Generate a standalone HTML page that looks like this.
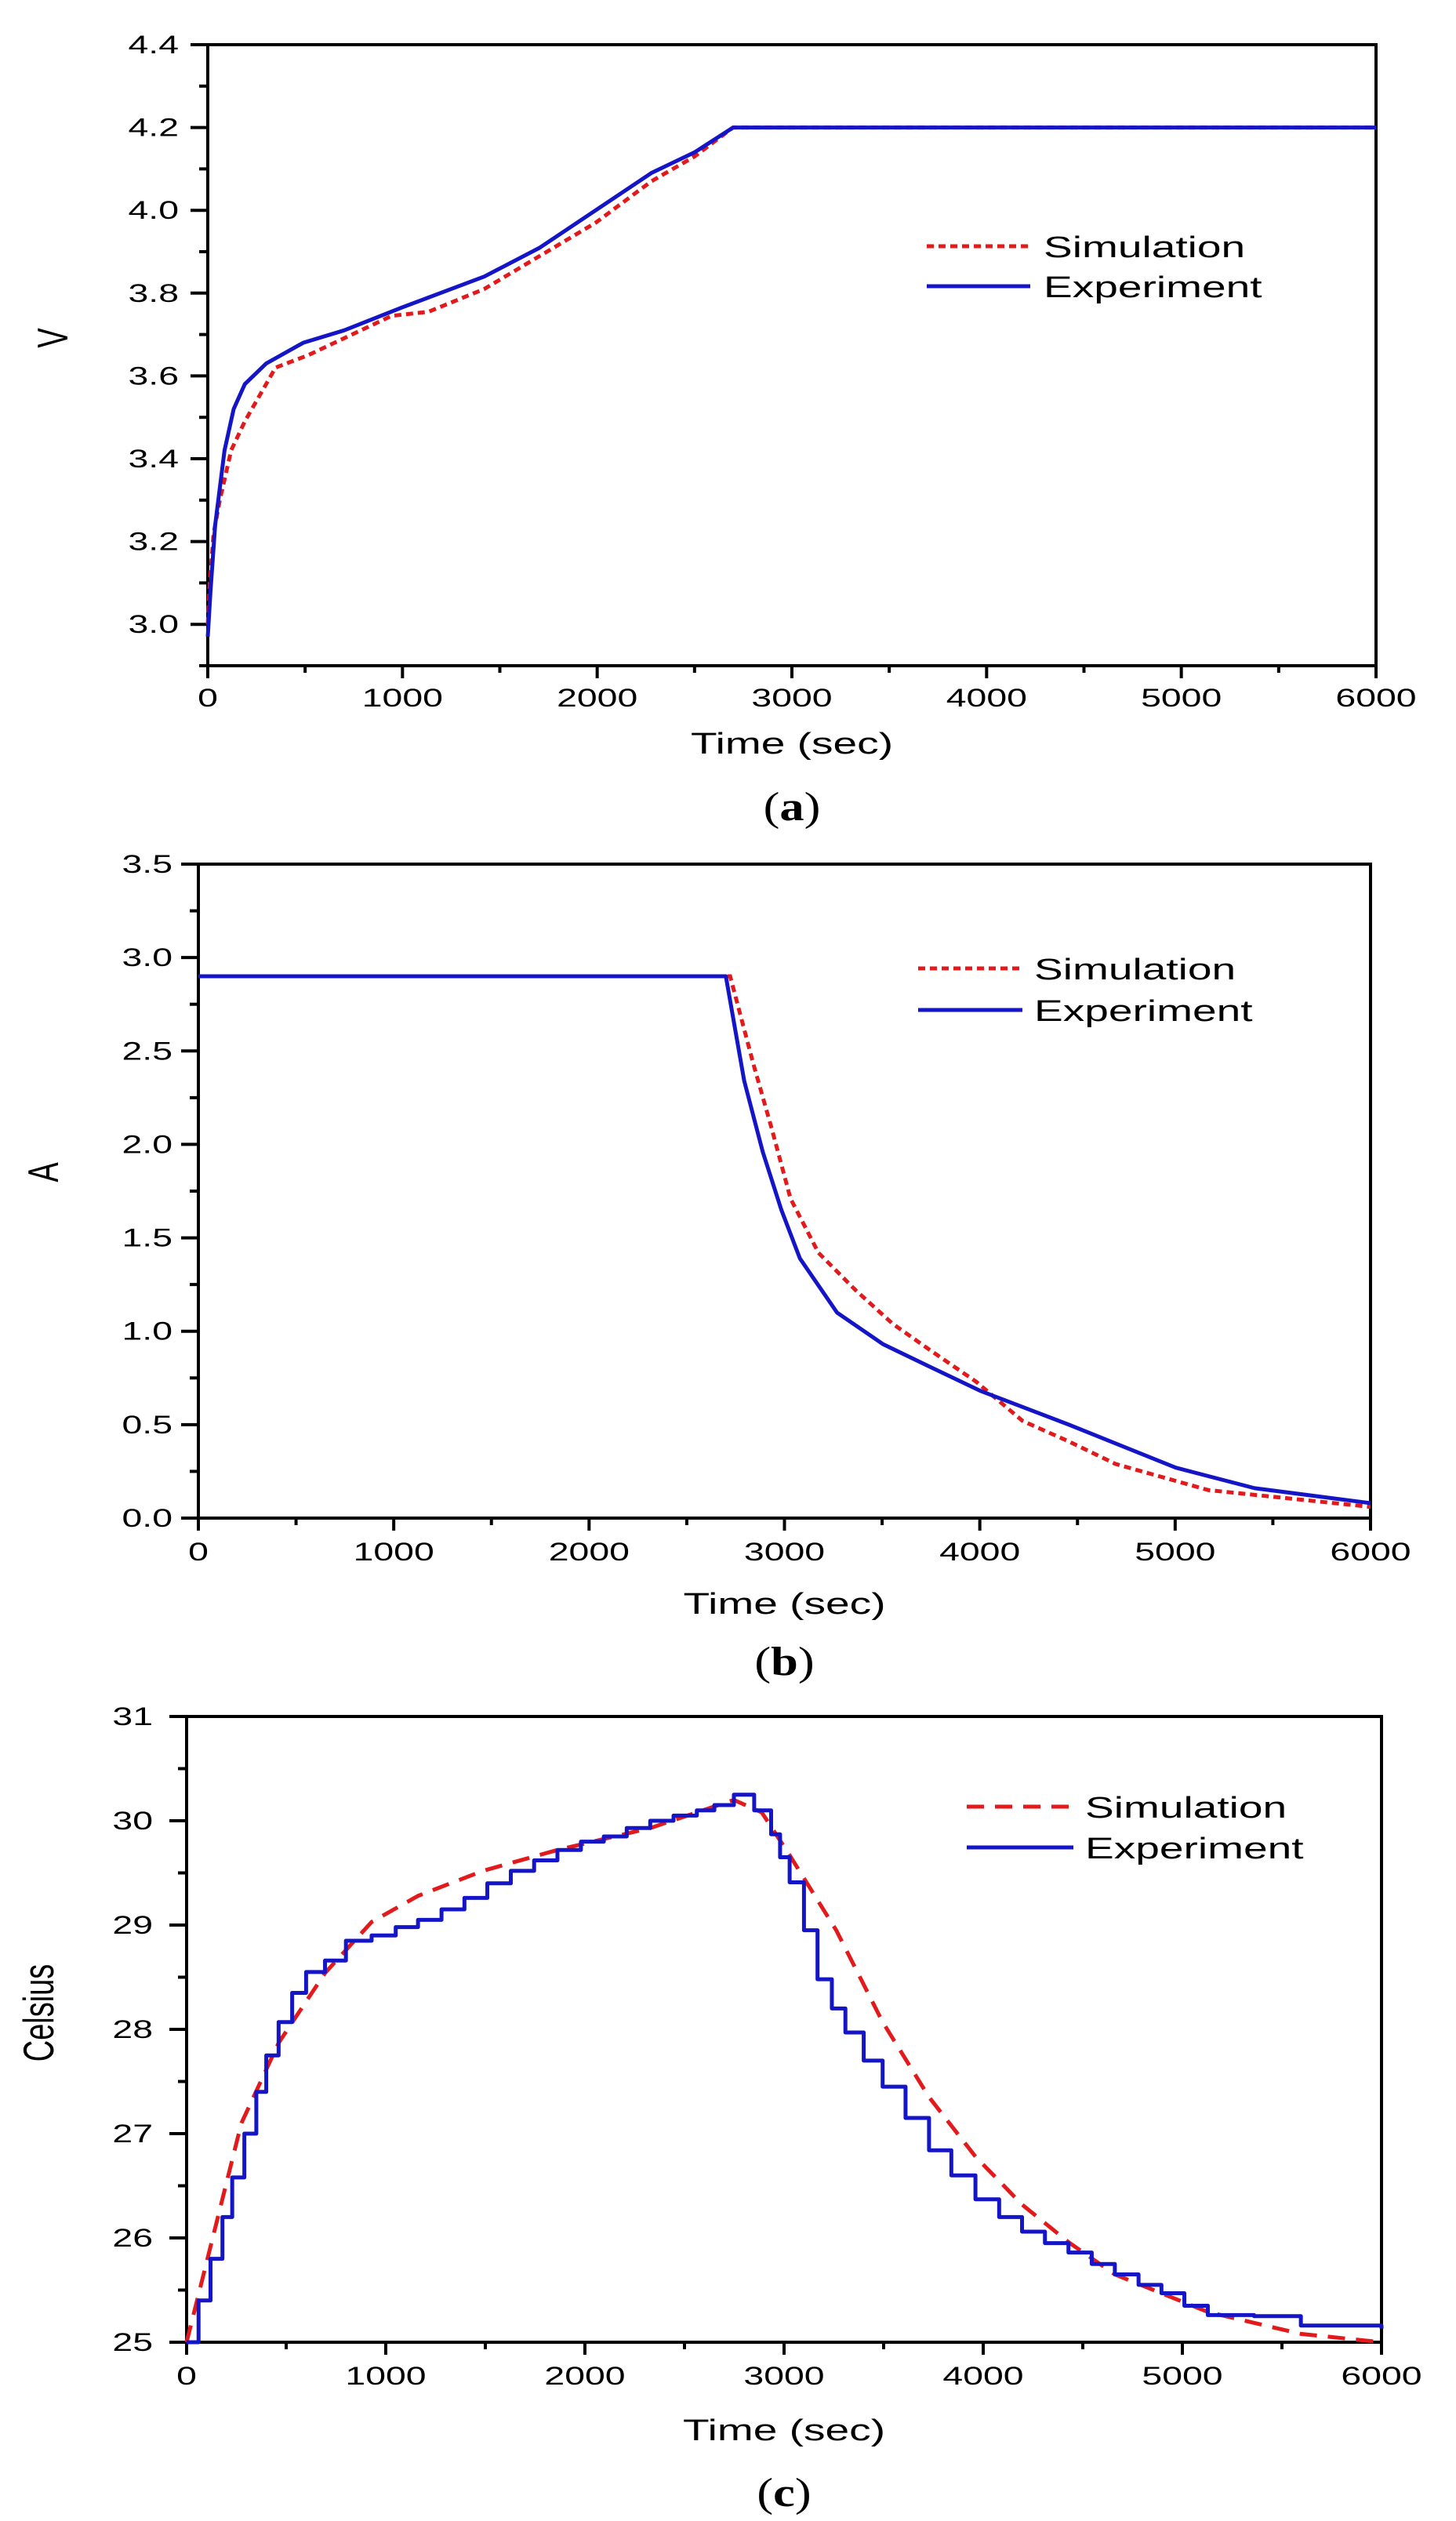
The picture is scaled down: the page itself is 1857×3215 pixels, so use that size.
<!DOCTYPE html>
<html><head><meta charset="utf-8"><style>
html,body{margin:0;padding:0;background:#fff;width:1857px;height:3215px;overflow:hidden}
svg{display:block;font-family:"Liberation Sans",Arial,sans-serif}
</style></head><body>
<svg id="fig" width="1857" height="3215" viewBox="0 0 1857 3215" xmlns="http://www.w3.org/2000/svg"></svg>
<script>
// ---- Chart (a): voltage ----
const aExpT = [0, 14, 38, 86, 133, 190, 300, 490, 700, 990, 1420, 1706, 1992, 2278, 2500, 2698, 6000];
const aExpV = [2.97, 3.08, 3.24, 3.42, 3.52, 3.58, 3.63, 3.68, 3.71, 3.764, 3.84, 3.91, 4.0, 4.09, 4.14, 4.2, 4.2];
const aSimT = [0, 10, 30, 62, 120, 190, 348, 515, 944, 1134, 1420, 1706, 1992, 2278, 2500, 2698, 6000];
const aSimV = [3.0, 3.1, 3.22, 3.30, 3.42, 3.49, 3.62, 3.65, 3.745, 3.755, 3.81, 3.89, 3.97, 4.07, 4.13, 4.2, 4.2];
const aYTicks = ["3.0", "3.2", "3.4", "3.6", "3.8", "4.0", "4.2", "4.4"];
// ---- Chart (b): current ----
const bExpT = [0, 2700, 2794, 2889, 2984, 3079, 3269, 3506, 3744, 4005, 4456, 5003, 5407, 6000];
const bExpA = [2.9, 2.9, 2.34, 1.96, 1.65, 1.39, 1.10, 0.93, 0.81, 0.68, 0.50, 0.27, 0.16, 0.08];
const bSimT = [0, 2722, 2841, 2936, 3031, 3174, 3364, 3554, 3744, 3981, 4219, 4456, 4694, 5169, 6000];
const bSimA = [2.9, 2.9, 2.43, 2.08, 1.71, 1.42, 1.22, 1.04, 0.90, 0.73, 0.52, 0.41, 0.29, 0.15, 0.06];
const bYTicks = ["0.0", "0.5", "1.0", "1.5", "2.0", "2.5", "3.0", "3.5"];
// ---- Chart (c): temperature ----
const cExpT = [0, 60, 120, 180, 229, 290, 350, 400, 462, 530, 600, 695, 800, 929, 1050, 1162, 1280, 1395, 1510, 1628, 1745, 1862, 1980, 2095, 2210, 2328, 2445, 2562, 2650, 2748, 2795, 2850, 2935, 2980, 3028, 3100, 3168, 3240, 3308, 3400, 3495, 3610, 3728, 3840, 3961, 4080, 4195, 4310, 4428, 4545, 4661, 4780, 4895, 5010, 5128, 5360, 5595, 6000];
const cExpC = [25, 25.4, 25.8, 26.2, 26.58, 27.0, 27.4, 27.75, 28.07, 28.35, 28.55, 28.66, 28.85, 28.9, 28.98, 29.05, 29.15, 29.26, 29.4, 29.52, 29.62, 29.72, 29.8, 29.85, 29.93, 30.0, 30.05, 30.1, 30.15, 30.25, 30.25, 30.1, 29.87, 29.65, 29.41, 28.95, 28.48, 28.2, 27.97, 27.7, 27.45, 27.15, 26.84, 26.6, 26.37, 26.2, 26.06, 25.95, 25.86, 25.75, 25.65, 25.55, 25.47, 25.35, 25.26, 25.25, 25.16, 25.13];
const cSimT = [0, 275, 462, 695, 929, 1162, 1488, 1862, 2328, 2748, 2888, 3028, 3262, 3495, 3728, 3961, 4195, 4428, 4661, 5128, 5595, 6000];
const cSimC = [25, 27.1, 27.87, 28.54, 29.03, 29.28, 29.52, 29.72, 29.93, 30.2, 30.08, 29.67, 28.95, 28.07, 27.35, 26.78, 26.32, 25.96, 25.65, 25.29, 25.08, 25.0];
const cYTicks = ["25", "26", "27", "28", "29", "30", "31"];
const xTicks = ["0", "1000", "2000", "3000", "4000", "5000", "6000"];
const seriesNames = ["Simulation", "Experiment"];

const NS = "http://www.w3.org/2000/svg";
const fig = document.getElementById("fig");
const SX = 1.45;
function mk(tag, attrs, parent) {
  const e = document.createElementNS(NS, tag);
  for (const k in attrs) e.setAttribute(k, attrs[k]);
  (parent || fig).appendChild(e);
  return e;
}
function txt(parent, s, x, y, size, anchor, extra, family, rot) {
  const t = mk("text", {"font-size": size, "text-anchor": anchor || "start", fill: "#000",
    transform: "translate(" + x + "," + y + ") scale(" + SX + ",1)" + (rot ? " rotate(-90)" : "")}, parent);
  if (family) t.setAttribute("font-family", family);
  if (extra) for (const k in extra) t.setAttribute(k, extra[k]);
  t.textContent = s;
  return t;
}

function chart(cfg) {
  const g = mk("g", {});
  
  
  const xs = t => cfg.L + (t - 0) / 6000 * (cfg.R - cfg.L);
  const ys = v => cfg.B - (v - cfg.ymin) / (cfg.ymax - cfg.ymin) * (cfg.B - cfg.T);
  const fr = mk("rect", {x: cfg.L, y: cfg.T, width: cfg.R - cfg.L, height: cfg.B - cfg.T, fill: "none", stroke: "#000", "stroke-width": 4}, g);
  
  
  for (let t = 0; t <= 6000; t += 500) {
    const major = t % 1000 === 0;
    mk("line", {x1: xs(t), x2: xs(t), y1: cfg.B, y2: cfg.B + (major ? 16 : 9), stroke: "#000", "stroke-width": 4}, g);
  }
  xTicks.forEach(s => {
    const t = txt(g, s, xs(+s), cfg.xlabY + 11, 32, "middle");
    
    
  });
  for (let v = cfg.ymin; v <= cfg.ymax + 1e-9; v += cfg.minor) {
    const vv = Math.round(v * 1000) / 1000;
    const major = cfg.yTicks.some(s => Math.abs(+s - vv) < 1e-6);
    mk("line", {x1: cfg.L, x2: cfg.L - (major ? 22 : 11), y1: ys(vv), y2: ys(vv), stroke: "#000", "stroke-width": 4}, g);
  }
  cfg.yTicks.forEach(s => {
    const t = txt(g, s, cfg.ylabR, ys(+s) + 11, 32, "end");
    
    
  });
  const xt = txt(g, "Time (sec)", (cfg.L + cfg.R) / 2, cfg.titleY + 14, 38, "middle");
  
  
  const yt = txt(g, cfg.ylabel, cfg.yTitleX + 13, cfg.yTitleY, 38, "middle", null, null, true);
  
  
  const cap = mk("text", {x: 0, y: 0, "font-size": 52, "text-anchor": "middle", "font-family": '"Liberation Serif",serif',
    transform: "translate(" + ((cfg.L + cfg.R) / 2) + "," + (cfg.capY + 16) + ") scale(1.2,1)"}, g);
  
  
  cap.innerHTML = '(<tspan font-weight="bold">' + cfg.cap + '</tspan>)';
  function path(T, V, step) {
    let d = "";
    for (let i = 0; i < T.length; i++) {
      const x = xs(T[i]), y = ys(V[i]);
      if (i === 0) d += "M" + x + "," + y;
      else if (step) d += "L" + x + "," + ys(V[i - 1]) + "L" + x + "," + y;
      else d += "L" + x + "," + y;
    }
    return d;
  }
  const sim = mk("path", {d: path(cfg.simT, cfg.simV, false), fill: "none", stroke: "#e31a1c", "stroke-width": 5, "stroke-dasharray": cfg.dash}, g);
  
  
  const exp = mk("path", {d: path(cfg.expT, cfg.expV, cfg.step), fill: "none", stroke: "#1515c8", "stroke-width": 5, "stroke-linejoin": "round"}, g);
  
  
  const lg = mk("g", {}, g);
  
  
  const l1 = mk("line", {x1: cfg.lgx1, x2: cfg.lgx2, y1: cfg.lgy1, y2: cfg.lgy1, stroke: "#e31a1c", "stroke-width": 5, "stroke-dasharray": cfg.dash}, lg);
  
  
  const t1 = txt(lg, seriesNames[0], cfg.lgtx, cfg.lgy1 + 14, 38, "start");
  
  
  const l2 = mk("line", {x1: cfg.lgx1, x2: cfg.lgx2, y1: cfg.lgy2, y2: cfg.lgy2, stroke: "#1515c8", "stroke-width": 5}, lg);
  
  
  const t2 = txt(lg, seriesNames[1], cfg.lgtx, cfg.lgy2 + 14, 38, "start");
  
  
}

chart({name: "voltage-chart", L: 265, R: 1755, T: 57, B: 849, ymin: 2.9, ymax: 4.4, minor: 0.1, yTicks: aYTicks,
  xlabY: 890, ylabR: 228, titleY: 947, capY: 1030, ylabel: "V", yTitleX: 73, yTitleY: 431, cap: "a",
  simT: aSimT, simV: aSimV, expT: aExpT, expV: aExpV, step: false, dash: "9,6",
  lgx1: 1182, lgx2: 1314, lgtx: 1331, lgy1: 314, lgy2: 365});
chart({name: "current-chart", L: 253, R: 1748, T: 1102, B: 1936, ymin: 0, ymax: 3.5, minor: 0.25, yTicks: bYTicks,
  xlabY: 1979, ylabR: 220, titleY: 2044, capY: 2120, ylabel: "A", yTitleX: 61, yTitleY: 1495, cap: "b",
  simT: bSimT, simV: bSimA, expT: bExpT, expV: bExpA, step: false, dash: "9,6",
  lgx1: 1171, lgx2: 1304, lgtx: 1319, lgy1: 1235, lgy2: 1288});
chart({name: "temperature-chart", L: 238, R: 1762, T: 2189, B: 2987, ymin: 25, ymax: 31, minor: 0.5, yTicks: cYTicks,
  xlabY: 3030, ylabR: 195, titleY: 3098, capY: 3180, ylabel: "Celsius", yTitleX: 55, yTitleY: 2567, cap: "c",
  simT: cSimT, simV: cSimC, expT: cExpT, expV: cExpC, step: true, dash: "22,14",
  lgx1: 1233, lgx2: 1369, lgtx: 1384, lgy1: 2304, lgy2: 2356});
</script>
</body></html>
